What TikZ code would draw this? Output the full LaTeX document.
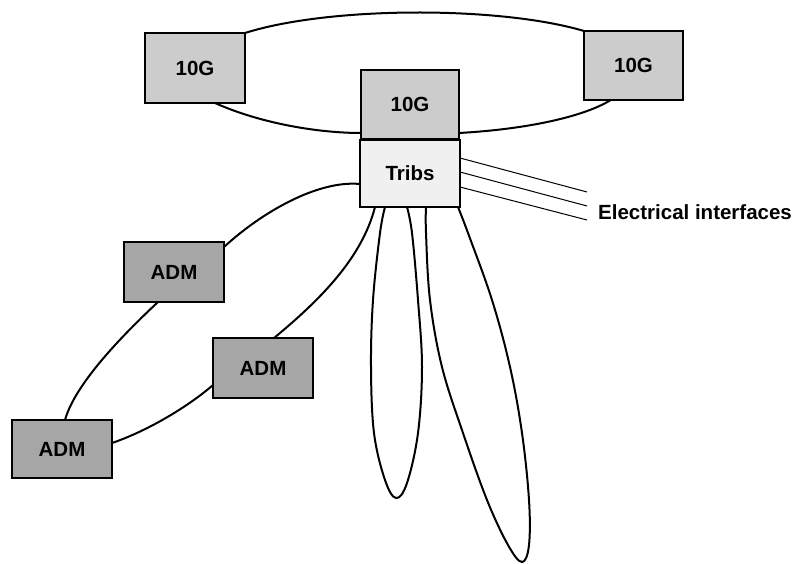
\documentclass[tikz,border=0pt]{standalone}
\usepackage{fontspec}
\setmainfont{Liberation Sans}
\usetikzlibrary{calc}
\begin{document}
\begin{tikzpicture}[x=1pt,y=-1pt,
  box/.style={draw=black, line width=2.6pt, inner sep=0pt, outer sep=0pt,
              font=\fontsize{20.5}{24}\selectfont\bfseries},
  tenbox/.style={box, fill=black!20, minimum width=99pt, minimum height=69pt},
  tribbox/.style={box, fill=black!6, minimum width=100pt, minimum height=67pt},
  admbox/.style={box, fill=black!35, minimum width=100pt, minimum height=60pt},
  link/.style={line width=2pt},
  thin link/.style={line width=1pt},
  lbl/.style={font=\fontsize{20.5}{24}\selectfont\bfseries, inner sep=0pt, anchor=west}]
\useasboundingbox (0,0) rectangle (801,563);

% nodes
\node[tenbox, minimum width=100pt, minimum height=70pt] (g1) at (195,68) {10G};
\node[tenbox, line width=1.5pt] (g3) at (633.5,65.5) {10G};
\node[tenbox, minimum width=98pt] (g2) at (410,104.5) {10G};
\node[tribbox] (tr) at (410,173.5) {Tribs};
\node[admbox] (a1) at (174,272) {ADM};
\node[admbox] (a2) at (263,368) {ADM};
\node[admbox, minimum height=58pt] (a3) at (62,449) {ADM};
\node[lbl] (ei) at (598,212) {Electrical interfaces};

% 10G ring
\draw[link] (g1.north east) .. controls (330,6) and (500,6) .. (g3.north west);
\draw[link] ($(g1.south west)!0.7!(g1.south east)$) .. controls (262,124) and (320,133) .. ($(g2.south west)+(0,-6)$);
\draw[link] ($(g2.south east)+(0,-6)$) .. controls (530,129) and (585,116) .. ($(g3.south west)!0.27!(g3.south east)$);

% ADM ring
\draw[link] ($(tr.west)+(0,10.5)$) .. controls (318,180) and (262,212) .. ($(a1.north east)+(0,5)$);
\draw[link] ($(a1.south west)!0.34!(a1.south east)$) .. controls (112,345) and (74,388) .. ($(a3.north west)!0.53!(a3.north east)$);
\draw[link] ($(a3.east)+(0,-6)$) .. controls (150,430) and (190,405) .. ($(a2.west)+(0,17)$);
\draw[link] ($(a2.north west)!0.61!(a2.north east)$) .. controls (320,300) and (362,258) .. ($(tr.south west)!0.15!(tr.south east)$);

% tributary loops
\coordinate (l1a) at ($(tr.south west)!0.25!(tr.south east)$);
\coordinate (l1b) at ($(tr.south west)!0.47!(tr.south east)$);
\coordinate (l2a) at ($(tr.south west)!0.66!(tr.south east)$);
\coordinate (l2b) at ($(tr.south west)!0.98!(tr.south east)$);
\draw[link] plot[smooth, tension=0.6] coordinates {(l1a) (380,233) (373,300) (371,367) (374,433) (385,480) (396,498) (407,483) (418,433) (422,367) (418,300) (412,233) (l1b)};
\draw[link] plot[smooth, tension=0.6] coordinates {(l2a) (426,233) (430,300) (442,367) (463,433) (487,500) (508,545) (522,562) (529,545) (529,500) (522,433) (510,367) (492,300) (468,233) (l2b)};

% electrical interfaces
\draw[thin link] ($(tr.north east)+(0,18)$) -- ($(ei.west)+(-11,-20)$);
\draw[thin link] ($(tr.north east)+(0,32)$) -- ($(ei.west)+(-11,-6)$);
\draw[thin link] ($(tr.north east)+(0,47)$) -- ($(ei.west)+(-11,8)$);
\end{tikzpicture}
\end{document}
